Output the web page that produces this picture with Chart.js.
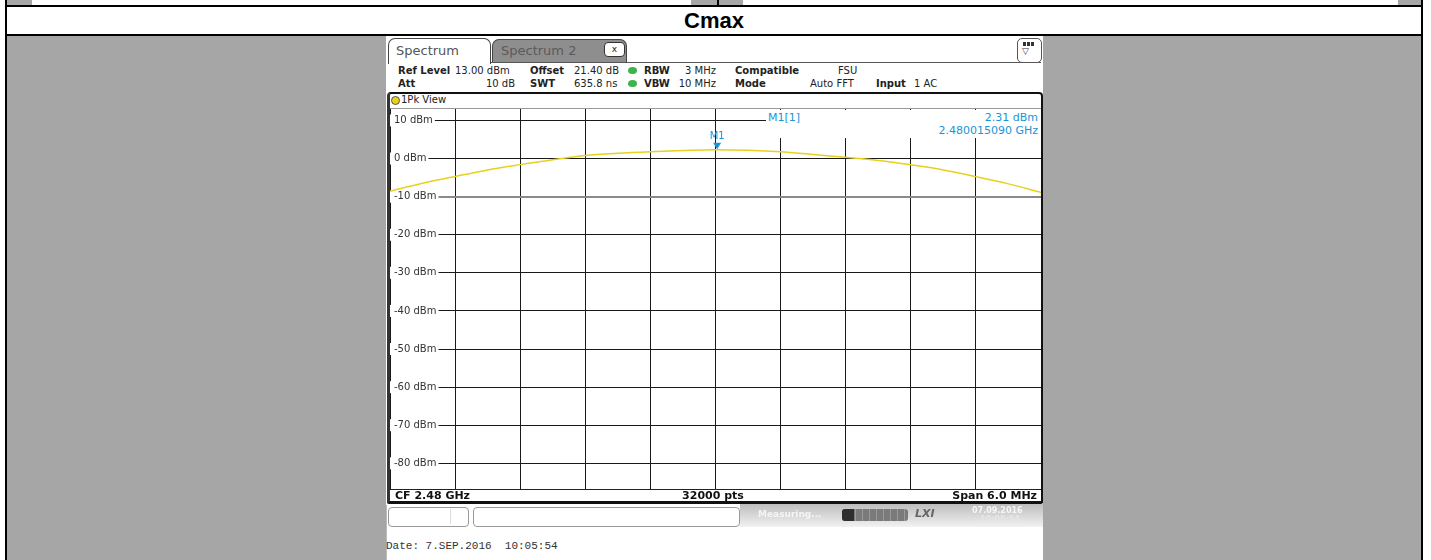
<!DOCTYPE html>
<html>
<head>
<meta charset="utf-8">
<script src="https://cdn.jsdelivr.net/npm/chart.js@4.4.1/dist/chart.umd.min.js"></script>
<style>
body { margin: 0; width: 1431px; height: 560px; overflow: hidden; background: #fff; position: relative; font-family: "DejaVu Sans", sans-serif; }
.a { position: absolute; white-space: nowrap; }
.blk { background: #000; }
.gry { background: #a6a6a6; }
.hd { font-size: 10px; line-height: 12px; color: #222; }
.b { font-weight: bold; }
.dot { width: 9px; height: 7px; border-radius: 50%; background: #3cb44a; }
.blue { color: #1a94d8; font-size: 11px; line-height: 13px; }
</style>
</head>
<body>
<!-- outer table -->
<div class="a gry" style="left:7px;top:36px;width:1414px;height:524px"></div>
<div class="a gry" style="left:7px;top:0;width:25px;height:5px"></div>
<div class="a gry" style="left:691px;top:0;width:26px;height:5px"></div>
<div class="a gry" style="left:719px;top:0;width:24px;height:5px"></div>
<div class="a gry" style="left:1398px;top:0;width:23px;height:5px"></div>
<div class="a blk" style="left:717px;top:0;width:2px;height:6px"></div>
<div class="a blk" style="left:5px;top:0;width:2px;height:560px"></div>
<div class="a blk" style="left:1421px;top:0;width:2px;height:560px"></div>
<div class="a blk" style="left:5px;top:5px;width:1418px;height:2px"></div>
<div class="a blk" style="left:5px;top:34px;width:1418px;height:2px"></div>
<div class="a" style="left:7px;top:7px;width:1414px;height:27px;line-height:27px;text-align:center;font-family:'Liberation Sans',Arial,sans-serif;font-weight:bold;font-size:22px;color:#000">Cmax</div>

<!-- analyzer screenshot -->
<div class="a" style="left:386px;top:36px;width:657px;height:524px;background:#fff"></div>
<div class="a" style="left:492px;top:39px;width:133px;height:22px;background:#8e8e8e;border:1px solid #444;border-bottom:none;border-radius:7px 7px 0 0"></div>
<div class="a" style="left:501px;top:43px;font-size:13px;line-height:16px;color:#5a5a5a">Spectrum 2</div>
<div class="a" style="left:604px;top:42px;width:19px;height:13px;background:#fff;border:1px solid #333;border-radius:4px;font-size:9px;line-height:13px;text-align:center;color:#222">x</div>
<div class="a" style="left:388px;top:38px;width:101px;height:25px;background:#fff;border:1.5px solid #444;border-bottom:none;border-radius:7px 7px 0 0"></div>
<div class="a" style="left:396px;top:43px;font-size:13px;line-height:16px;color:#555">Spectrum</div>
<div class="a" style="left:491px;top:62px;width:550px;height:1px;background:#555"></div>
<div class="a" style="left:1017px;top:38px;width:23px;height:23px;border:1px solid #555;border-radius:5px;background:#fff"></div>
<div class="a" style="left:1023px;top:42px;width:12px;height:4px;background:repeating-linear-gradient(90deg,#333 0 3px,#fff 3px 4px)"></div>
<div class="a" style="left:1022px;top:46px;font-size:9px;line-height:10px;color:#333">&#9661;</div>

<div class="a hd b" style="left:398px;top:65px">Ref Level</div>
<div class="a hd" style="left:455px;top:65px">13.00 dBm</div>
<div class="a hd b" style="left:530px;top:65px">Offset</div>
<div class="a hd" style="left:574px;top:65px">21.40 dB</div>
<div class="a dot" style="left:628px;top:67px"></div>
<div class="a hd b" style="left:644px;top:65px">RBW</div>
<div class="a hd" style="left:716px;top:65px;transform:translateX(-100%)">3 MHz</div>
<div class="a hd b" style="left:735px;top:65px">Compatible</div>
<div class="a hd" style="left:838px;top:65px">FSU</div>

<div class="a hd b" style="left:398px;top:78px">Att</div>
<div class="a hd" style="left:515px;top:78px;transform:translateX(-100%)">10 dB</div>
<div class="a hd b" style="left:530px;top:78px">SWT</div>
<div class="a hd" style="left:574px;top:78px">635.8 ns</div>
<div class="a dot" style="left:628px;top:80px"></div>
<div class="a hd b" style="left:644px;top:78px">VBW</div>
<div class="a hd" style="left:716px;top:78px;transform:translateX(-100%)">10 MHz</div>
<div class="a hd b" style="left:735px;top:78px">Mode</div>
<div class="a hd" style="left:810px;top:78px">Auto FFT</div>
<div class="a hd b" style="left:876px;top:78px">Input</div>
<div class="a hd" style="left:914px;top:78px">1 AC</div>

<!-- diagram frame -->
<div class="a" style="left:387px;top:92px;width:656px;height:412px;box-sizing:border-box;border:2px solid #111;border-left:3px solid #333;border-bottom:3px solid #111;border-radius:4px 4px 2px 2px"></div>
<div class="a" style="left:391px;top:96px;width:7px;height:7px;border-radius:50%;background:#e8d21a;border:1px solid #555"></div>
<div class="a hd" style="left:401px;top:94px">1Pk View</div>
<div class="a" style="left:390px;top:108px;width:651px;height:1px;background:#999"></div>

<canvas id="trace" class="a" width="651" height="381" style="left:390px;top:109px"></canvas>

<div class="a" style="left:766px;top:110px;width:275px;height:28px;background:#fff"></div>
<div class="a blue" style="left:768px;top:111px">M1[1]</div>
<div class="a blue" style="left:1038px;top:111px;transform:translateX(-100%)">2.31 dBm</div>
<div class="a blue" style="left:1038px;top:124px;transform:translateX(-100%)">2.480015090 GHz</div>

<div class="a" style="left:390px;top:489px;width:651px;height:1px;background:#222"></div>
<div class="a b" style="left:395px;top:489px;font-size:11px;line-height:13px;color:#111">CF 2.48 GHz</div>
<div class="a b" style="left:713px;top:489px;font-size:11px;line-height:13px;color:#111;transform:translateX(-50%)">32000 pts</div>
<div class="a b" style="left:1037px;top:489px;font-size:11px;line-height:13px;color:#111;transform:translateX(-100%)">Span 6.0 MHz</div>

<!-- status bar -->
<div class="a" style="left:740px;top:504px;width:303px;height:23px;background:linear-gradient(#bdbdbd,#f2f2f2)"></div>
<div class="a" style="left:388px;top:507px;width:79px;height:18px;border:1px solid #999;border-radius:4px;background:#fff"></div>
<div class="a" style="left:450px;top:509px;width:1px;height:15px;background:#ddd"></div>
<div class="a" style="left:473px;top:507px;width:265px;height:18px;border:1px solid #999;border-radius:4px;background:#fff"></div>
<div class="a b" style="left:758px;top:509px;font-size:9px;line-height:11px;color:rgba(255,255,255,0.75)">Measuring...</div>
<div class="a" style="left:842px;top:509px;width:66px;height:12px;border-radius:3px;background:repeating-linear-gradient(90deg,#7a7a7a 0 6px,#9a9a9a 6px 7px)"></div>
<div class="a" style="left:842px;top:509px;width:12px;height:12px;border-radius:3px 0 0 3px;background:#2e2e2e"></div>
<div class="a b" style="left:915px;top:507px;font-size:11px;line-height:14px;font-style:italic;color:#666">LXI</div>
<div class="a b" style="left:972px;top:506px;font-size:8px;line-height:9px;color:#f6f6f6">07.09.2016</div>
<div class="a b" style="left:980px;top:515px;font-size:8px;line-height:9px;color:#e6e6e6">10:05:54</div>
<div class="a" style="left:386px;top:505px;width:1px;height:55px;background:#bbb"></div>
<div class="a" style="left:386px;top:539px;font-family:'Liberation Mono','DejaVu Sans Mono',monospace;font-size:11px;line-height:14px;color:#333;white-space:pre">Date: 7.SEP.2016  10:05:54</div>

<script>
// frequency offset from CF 2.48 GHz, MHz
const freqOffsets = [-3.0, -2.7, -2.4, -2.1, -1.8, -1.5, -1.2, -0.9, -0.6, -0.3, 0.0,
                     0.3, 0.6, 0.9, 1.2, 1.5, 1.8, 2.1, 2.4, 2.7, 3.0];
// 1Pk trace level, dBm
const traceLevels = [-8.6, -6.5, -4.7, -3.0, -1.6, -0.3, 0.8, 1.4, 1.8, 2.1, 2.3,
                     2.15, 1.75, 1.05, 0.35, -0.5, -1.65, -3.0, -4.75, -6.65, -8.9];
const xGridTicks = [-3.0, -2.4, -1.8, -1.2, -0.6, 0.0, 0.6, 1.2, 1.8, 2.4, 3.0];
const yGridTicks = [10, 0, -10, -20, -30, -40, -50, -60, -70, -80];
const markerFreq = 0.01509;
const markerLevel = 2.31;

const markerPlugin = {
    id: 'marker',
    afterDatasetsDraw(chart) {
        const c = chart.ctx;
        const px = chart.scales.x.getPixelForValue(markerFreq);
        const py = chart.scales.y.getPixelForValue(markerLevel);
        c.save();
        c.fillStyle = '#1a94d8';
        c.beginPath();
        c.moveTo(px, py - 0.5);
        c.lineTo(px - 4, py - 7);
        c.lineTo(px + 4, py - 7);
        c.closePath();
        c.fill();
        c.font = '10px "DejaVu Sans"';
        c.textAlign = 'center';
        c.textBaseline = 'bottom';
        c.fillText('M1', px, py - 8);
        c.restore();
    }
};

const ctx = document.getElementById('trace').getContext('2d');
new Chart(ctx, {
    type: 'line',
    data: {
        datasets: [{
            data: freqOffsets.map((f, i) => ({ x: f, y: traceLevels[i] })),
            borderColor: '#e6d21c',
            borderWidth: 1.5,
            pointRadius: 0,
            cubicInterpolationMode: 'monotone',
            fill: false
        }]
    },
    options: {
        responsive: false,
        animation: false,
        devicePixelRatio: 1,
        layout: { padding: 0 },
        plugins: { legend: { display: false }, tooltip: { enabled: false } },
        scales: {
            x: {
                type: 'linear',
                min: -3,
                max: 3,
                afterBuildTicks: s => { s.ticks = xGridTicks.map(v => ({ value: v })); },
                afterFit: s => { s.height = 0; s.paddingLeft = 0; s.paddingRight = 0; },
                ticks: { display: false },
                grid: { color: '#1a1a1a', lineWidth: 1, drawTicks: false },
                border: { display: false }
            },
            y: {
                type: 'linear',
                min: -87,
                max: 13,
                afterBuildTicks: s => { s.ticks = yGridTicks.map(v => ({ value: v })); },
                afterFit: s => { s.width = 0; s.paddingTop = 0; s.paddingBottom = 0; },
                ticks: {
                    mirror: true,
                    padding: 4,
                    color: '#333',
                    font: { family: 'DejaVu Sans', size: 10 },
                    callback: v => v + ' dBm',
                    showLabelBackdrop: true,
                    backdropColor: '#fff',
                    backdropPadding: { top: 0, bottom: 0, left: 4, right: 2 }
                },
                grid: {
                    drawTicks: false,
                    color: c => c.tick && c.tick.value === -10 ? '#8a8a8a' : '#1a1a1a',
                    lineWidth: c => c.tick && c.tick.value === -10 ? 2 : 1
                },
                border: { display: false }
            }
        }
    },
    plugins: [markerPlugin]
});
</script>
</body>
</html>
